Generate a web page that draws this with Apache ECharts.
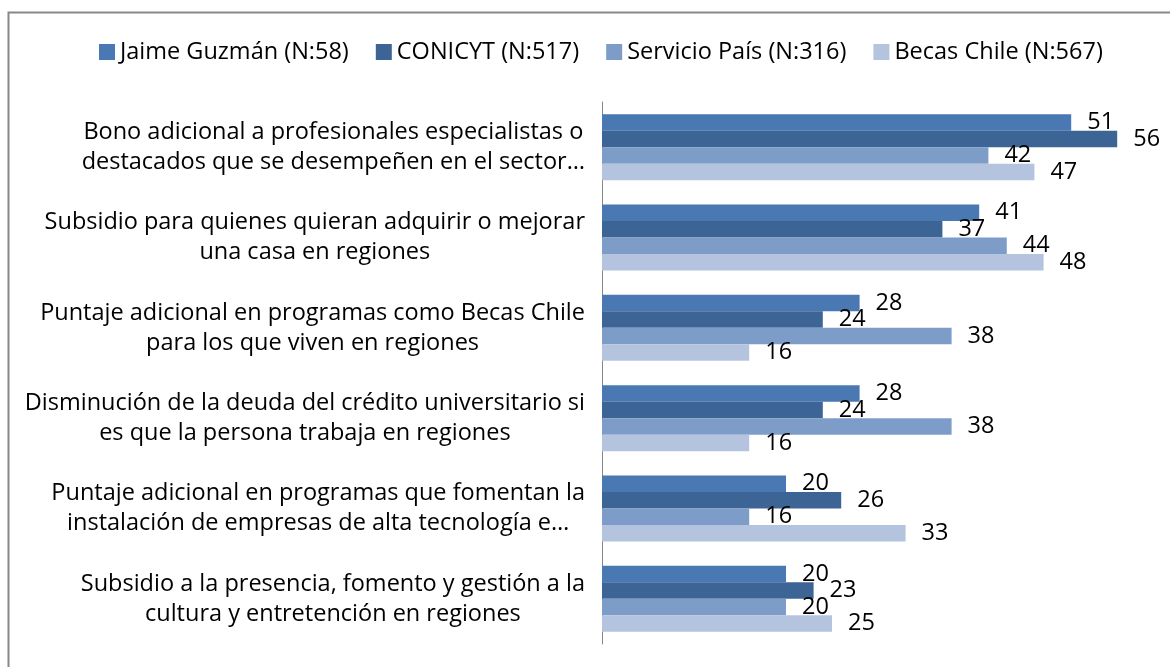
<!DOCTYPE html>
<html>
<head>
<meta charset="utf-8">
<script src="https://cdn.jsdelivr.net/npm/echarts@6/dist/echarts.min.js"></script>
<style>
html, body { margin: 0; padding: 0; background: #fff; }
#chart { width: 1170px; height: 667px; }
</style>
</head>
<body>
<div id="chart"></div>
<script>
var categories = [
	"Bono adicional a profesionales especialistas o\ndestacados que se desempeñen en el sector…",
	"Subsidio para quienes quieran adquirir o mejorar\nuna casa en regiones",
	"Puntaje adicional en programas como Becas Chile\npara los que viven en regiones",
	"Disminución de la deuda del crédito universitario si\nes que la persona trabaja en regiones",
	"Puntaje adicional en programas que fomentan la\ninstalación de empresas de alta tecnología e…",
	"Subsidio a la presencia, fomento y gestión a la\ncultura y entretención en regiones"
];
var seriesNames = ["Jaime Guzmán (N:58)", "CONICYT (N:517)", "Servicio País (N:316)", "Becas Chile (N:567)"];
var jaimeGuzman = [51, 41, 28, 28, 20, 20];
var conicyt = [56, 37, 24, 24, 26, 23];
var servicioPais = [42, 44, 38, 38, 16, 20];
var becasChile = [47, 48, 16, 16, 33, 25];
var colors = ['#4a78b2', '#3c6596', '#7e9cc8', '#b4c4df'];

var FONT = '"Open Sans", sans-serif';
var FS = 23.5;

function makeSeries(name, data) {
	return {
		name: name,
		type: 'bar',
		data: data,
		barGap: '0%',
		barCategoryGap: '27%',
		label: {
			show: true,
			position: 'right',
			distance: 16,
			color: '#000',
			fontSize: FS,
			fontFamily: FONT
		}
	};
}

var myChart = echarts.init(document.getElementById('chart'));
myChart.setOption({
	animation: false,
	color: colors,
	graphic: [{
		type: 'rect',
		left: 6,
		top: 10,
		shape: { width: 1300, height: 800 },
		style: { fill: 'none', stroke: '#888888', lineWidth: 2 }
	}],
	legend: {
		left: 94,
		top: 35,
		itemWidth: 16,
		itemHeight: 16,
		itemGap: 27,
		icon: 'rect',
		textStyle: { fontSize: FS, color: '#000', fontFamily: FONT }
	},
	grid: { left: 602, right: 16, top: 102, bottom: 23 },
	xAxis: {
		type: 'value',
		min: 0,
		max: 60,
		show: false
	},
	yAxis: {
		type: 'category',
		inverse: true,
		data: categories,
		axisLine: { lineStyle: { color: '#868686', width: 1 } },
		axisTick: { show: false },
		axisLabel: {
			margin: 17,
			align: 'right',
			formatter: function (v) {
				return v.split('\n').map(function (l) { return '{c|' + l + '}'; }).join('\n');
			},
			rich: {
				c: { align: 'center', fontSize: FS, lineHeight: 30, color: '#000', fontFamily: FONT }
			}
		}
	},
	series: [
		makeSeries(seriesNames[0], jaimeGuzman),
		makeSeries(seriesNames[1], conicyt),
		makeSeries(seriesNames[2], servicioPais),
		makeSeries(seriesNames[3], becasChile)
	]
});
</script>
</body>
</html>
